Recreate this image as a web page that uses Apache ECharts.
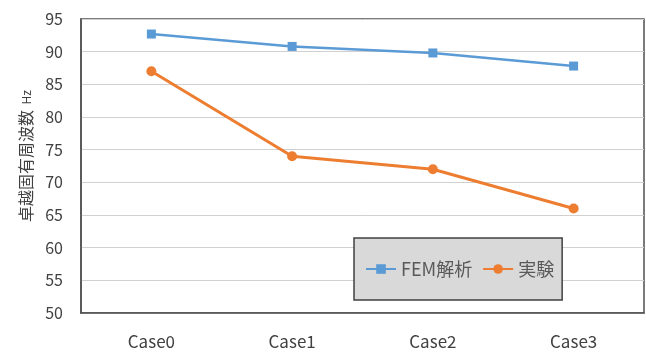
<!DOCTYPE html>
<html>
<head>
<meta charset="utf-8">
<script src="https://cdn.jsdelivr.net/npm/echarts@6/dist/echarts.min.js"></script>
<style>
  html, body { margin: 0; padding: 0; background: #fff; }
  #chart { width: 646px; height: 352px; }
</style>
</head>
<body>
<div id="chart"></div>
<script>
// Natural frequency per case: FEM analysis vs. experiment
const categories = ['Case0', 'Case1', 'Case2', 'Case3'];
const femValues = [92.7, 90.8, 89.8, 87.8];
const expValues = [87.0, 74.0, 72.0, 66.0];
const yTicks = { min: 50, max: 95, interval: 5 };

const font = '"Noto Sans CJK JP", "Noto Sans", sans-serif';
const chart = echarts.init(document.getElementById('chart'), null, { renderer: 'canvas' });

chart.setOption({
  backgroundColor: '#ffffff',
  animation: false,
  textStyle: { fontFamily: font },
  grid: {
    left: 81, right: 2, top: 19, bottom: 39,
    show: true, borderColor: '#505050', borderWidth: 1.5,
    backgroundColor: 'transparent'
  },
  legend: {
    left: 354, top: 238,
    orient: 'horizontal',
    backgroundColor: '#d9d9d9',
    borderColor: '#404040', borderWidth: 1.5,
    padding: [22, 8, 22, 11],
    itemWidth: 30, itemHeight: 12, itemGap: 10,
    textStyle: { color: '#595959', fontSize: 18, fontFamily: font },
    data: ['FEM解析', '実験']
  },
  xAxis: {
    type: 'category',
    data: categories,
    boundaryGap: true,
    axisLine: { show: true, lineStyle: { color: '#505050', width: 1.5 } },
    axisTick: { show: false },
    axisLabel: { color: '#404040', fontSize: 17, margin: 20, fontFamily: font },
    splitLine: { show: false }
  },
  yAxis: {
    type: 'value',
    min: yTicks.min, max: yTicks.max, interval: yTicks.interval,
    name: '{t|卓越固有周波数}{u|  Hz}',
    nameLocation: 'middle',
    nameGap: 47,
    nameTextStyle: {
      rich: {
        t: { fontSize: 16, color: '#404040', fontFamily: font, padding: [0, 0, 0, 20] },
        u: { fontSize: 12, color: '#404040', fontFamily: font }
      }
    },
    axisLine: { show: true, lineStyle: { color: '#505050', width: 1.5 } },
    axisTick: { show: false },
    axisLabel: { color: '#404040', fontSize: 16, margin: 18, fontFamily: font },
    splitLine: { show: true, lineStyle: { color: '#d0d0d0', width: 1 } }
  },
  series: [
    {
      name: 'FEM解析',
      type: 'line',
      data: femValues,
      symbol: 'rect',
      symbolSize: 9,
      lineStyle: { color: '#5b9bd5', width: 2.5 },
      itemStyle: { color: '#5b9bd5' },
      z: 3
    },
    {
      name: '実験',
      type: 'line',
      data: expValues,
      symbol: 'circle',
      symbolSize: 10,
      lineStyle: { color: '#ed7d31', width: 3 },
      itemStyle: { color: '#ed7d31' },
      z: 3
    }
  ]
});
</script>
</body>
</html>
